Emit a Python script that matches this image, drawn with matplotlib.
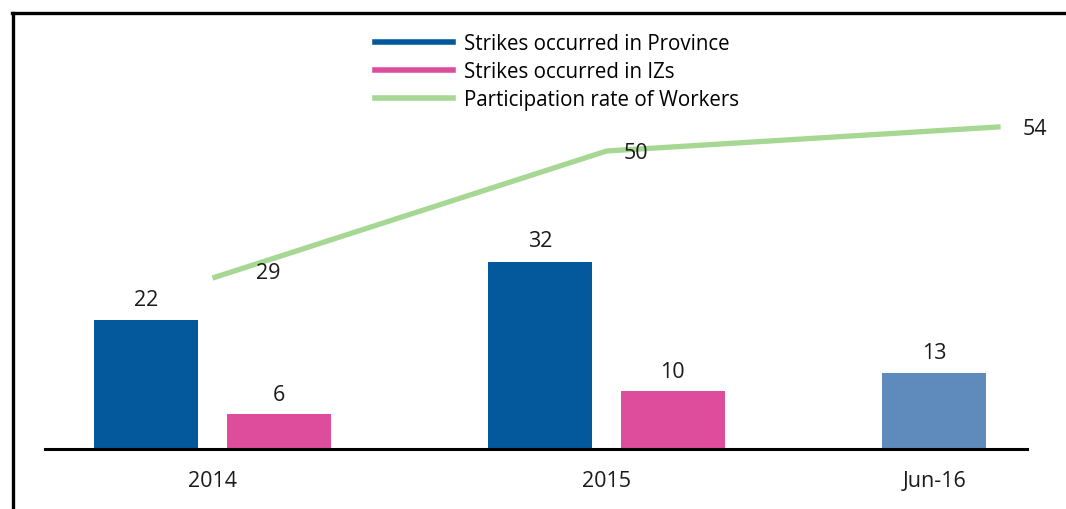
import matplotlib
matplotlib.use("Agg")
import matplotlib.pyplot as plt
from matplotlib.lines import Line2D

plt.rcParams['font.family'] = ['Open Sans', 'DejaVu Sans']

# === data ===
periods = ["2014", "2015", "Jun-16"]
strikes_province = [22, 32, 13]
strikes_iz = [6, 10]
participation = [29, 50, 54]

series_names = ["Strikes occurred in Province", "Strikes occurred in IZs",
                "Participation rate of Workers"]

# === colours ===
c_prov = "#03599C"
c_prov_light = "#5F8BBC"
c_iz = "#DD4D9B"
c_line = "#A6D894"

W, H = 1066, 510
fig = plt.figure(figsize=(W / 100, H / 100), dpi=100)
ax = fig.add_axes([45 / W, 60 / H, (1027 - 45) / W, 420 / H])
ax2 = ax.twinx()
ax2.set_position(ax.get_position())

bw = 0.264
off = 0.168
x = list(range(len(periods)))

prov_colors = [c_prov, c_prov, c_prov_light]
xp = [i - off for i in x]
xi = [i + off for i in x[:len(strikes_iz)]]
ax.bar(xp, strikes_province, width=bw, color=prov_colors, zorder=2)
ax.bar(xi, strikes_iz, width=bw, color=c_iz, zorder=2)

for xx, v in zip(xp, strikes_province):
    ax.annotate(str(v), (xx, v), xytext=(0, 15), textcoords="offset points",
                ha="center", va="center", fontsize=15.5, color="#1a1a1a")
for xx, v in zip(xi, strikes_iz):
    ax.annotate(str(v), (xx, v), xytext=(0, 14), textcoords="offset points",
                ha="center", va="center", fontsize=15.5, color="#1a1a1a")

ax2.plot(x, participation, color=c_line, lw=3.8, solid_capstyle="butt", zorder=3)
line_offsets = [(40, 4), (21, -1), (25, -1)]
for xx, v, (dx, dy) in zip(x, participation, line_offsets):
    ax2.annotate(str(v), (xx, v), xytext=(dx, dy), textcoords="offset points",
                 ha="center", va="center", fontsize=15.5, color="#1a1a1a")

ax.set_xlim(-0.425, 2.067)
ax.set_ylim(0, 420 / 5.85)
ax2.set_ylim(4.5 / 6.05, 424.5 / 6.05)

# ticks
ax.set_xticks([0, 1, 2 - off])
ax.set_xticklabels(periods, fontsize=15.5, color="#1a1a1a")
ax.tick_params(axis="x", length=0, pad=15)
ax.set_yticks([])
ax2.set_yticks([])
for a in (ax, ax2):
    for s in ["top", "right", "left"]:
        a.spines[s].set_visible(False)
    a.patch.set_visible(False)
ax2.spines["bottom"].set_visible(False)
ax.spines["bottom"].set_linewidth(2.2)
ax.spines["bottom"].set_color("black")
ax.spines["bottom"].set_zorder(5)

# legend
handles = [Line2D([], [], color=c, lw=4) for c in (c_prov, c_iz, c_line)]
fig.legend(handles, series_names, loc="upper left",
           bbox_to_anchor=(375 / W, (H - 34) / H), frameon=False,
           fontsize=14.8, handlelength=3.8, handletextpad=0.55,
           labelspacing=0.34, borderpad=0, borderaxespad=0)

# outer frame (left + top)
fig.add_artist(Line2D([12.5 / W, 12.5 / W], [0, (H - 14) / H], color="black", lw=2.4,
                      transform=fig.transFigure))
fig.add_artist(Line2D([11.5 / W, 1], [(H - 14) / H, (H - 14) / H], color="black", lw=2.4,
                      transform=fig.transFigure))

fig.savefig("out.png", dpi=100)
